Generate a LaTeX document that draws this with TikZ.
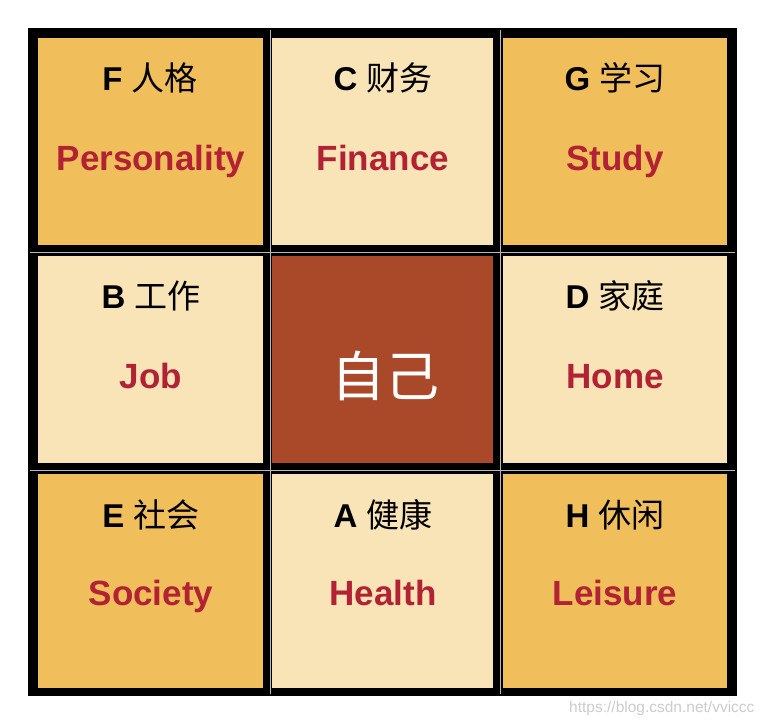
\documentclass[tikz,border=0pt]{standalone}
\usepackage{fontspec}
\setmainfont{Liberation Sans}
\newfontfamily\cjk{Noto Sans CJK SC}
\usepackage{xcolor}
\definecolor{darkcell}{HTML}{F0BF5C}
\definecolor{lightcell}{HTML}{F8E4B6}
\definecolor{selfcell}{HTML}{A9492A}
\definecolor{redtext}{HTML}{B22234}

\begin{document}
\begin{tikzpicture}[x=1pt,y=-1pt,
  head/.style={font=\fontsize{33}{36}\selectfont,text=black,anchor=base},
  word/.style={font=\fontsize{35}{40}\selectfont\bfseries,text=redtext,anchor=base}]
\useasboundingbox (0,0) rectangle (766,726);
% frame
\fill[black] (28,28) rectangle (737,696);
\draw[gray!55,line width=0.8pt] (270,30) -- (270,694) (500,30) -- (500,694)
  (30,252) -- (735,252) (30,470) -- (735,470);
% cells
\fill[darkcell] (38,38) rectangle (263,245);
\fill[lightcell] (272,38) rectangle (493,245);
\fill[darkcell] (503,38) rectangle (727,245);
\fill[lightcell] (38,256) rectangle (263,463);
\fill[selfcell] (272,256) rectangle (493,463);
\fill[lightcell] (503,256) rectangle (727,463);
\fill[darkcell] (38,474) rectangle (263,688);
\fill[lightcell] (272,474) rectangle (493,688);
\fill[darkcell] (503,474) rectangle (727,688);
% labels
\node[head] (hF) at (150,90) {\bfseries F {\cjk\mdseries 人格}};
\node[word] (wF) at (151,170) {Personality};
\node[head] (hC) at (383,90) {\bfseries C {\cjk\mdseries 财务}};
\node[word] (wC) at (383,170) {Finance};
\node[head] (hG) at (615,90) {\bfseries G {\cjk\mdseries 学习}};
\node[word] (wG) at (615,170) {Study};
\node[head] (hB) at (151,308) {\bfseries B {\cjk\mdseries 工作}};
\node[word] (wB) at (151,388) {Job};
\node[text=white,font=\cjk\fontsize{54}{60}\selectfont] (self) at (385,376) {自己};
\node[head] (hD) at (615,308) {\bfseries D {\cjk\mdseries 家庭}};
\node[word] (wD) at (615,388) {Home};
\node[head] (hE) at (151,527) {\bfseries E {\cjk\mdseries 社会}};
\node[word] (wE) at (151,605) {Society};
\node[head] (hA) at (383,527) {\bfseries A {\cjk\mdseries 健康}};
\node[word] (wA) at (383,605) {Health};
\node[head] (hH) at (615,527) {\bfseries H {\cjk\mdseries 休闲}};
\node[word] (wH) at (615,605) {Leisure};
\node[text=gray!40,font=\fontsize{15.5}{18}\selectfont,anchor=east] (mark) at (758,708) {https://blog.csdn.net/vviccc};
\end{tikzpicture}
\end{document}
